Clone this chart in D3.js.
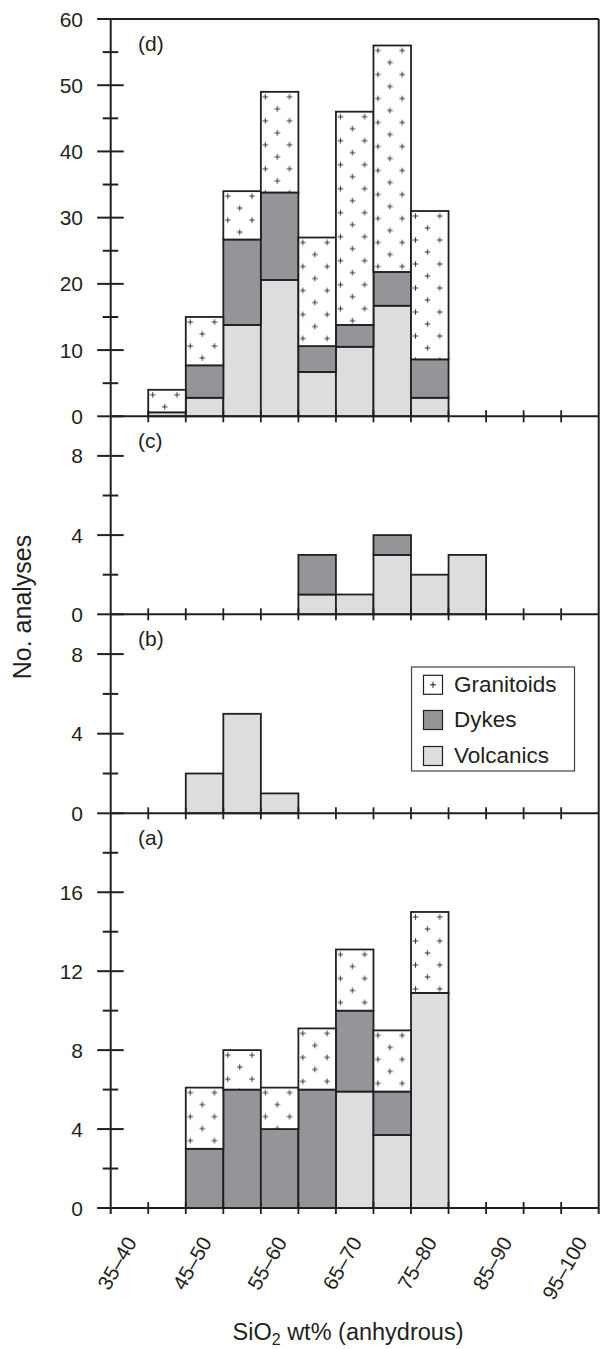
<!DOCTYPE html>
<html>
<head>
<meta charset="utf-8">
<script src="https://cdn.jsdelivr.net/npm/d3@7"></script>
<style>
  html, body { margin: 0; padding: 0; background: #fff; }
  svg { display: block; }
  text { font-family: "Liberation Sans", Arial, Helvetica, sans-serif; fill: #231f20; }
</style>
</head>
<body>
<svg id="chart" width="600" height="1349"></svg>
<script>
// ---------- DATA ----------
const bins = ["35–40","40–45","45–50","50–55","55–60","60–65","65–70","70–75","75–80","80–85","85–90","90–95","95–100"];
const xTickLabels = ["35–40","45–50","55–60","65–70","75–80","85–90","95–100"];
const seriesNames = ["Volcanics", "Dykes", "Granitoids"];

// panel (d)
const dVolcanics  = [0, 0.6, 2.8, 13.8, 20.6, 6.7, 10.5, 16.7, 2.8, 0, 0, 0, 0];
const dDykes      = [0, 0,   4.9, 12.9, 13.2, 3.9, 3.3,  5.1,  5.8, 0, 0, 0, 0];
const dGranitoids = [0, 3.4, 7.3, 7.3,  15.2, 16.4, 32.2, 34.2, 22.4, 0, 0, 0, 0];
// panel (c)
const cVolcanics  = [0, 0, 0, 0, 0, 1, 1, 3, 2, 3, 0, 0, 0];
const cDykes      = [0, 0, 0, 0, 0, 2, 0, 1, 0, 0, 0, 0, 0];
const cGranitoids = [0, 0, 0, 0, 0, 0, 0, 0, 0, 0, 0, 0, 0];
// panel (b)
const bVolcanics  = [0, 0, 2, 5, 1, 0, 0, 0, 0, 0, 0, 0, 0];
const bDykes      = [0, 0, 0, 0, 0, 0, 0, 0, 0, 0, 0, 0, 0];
const bGranitoids = [0, 0, 0, 0, 0, 0, 0, 0, 0, 0, 0, 0, 0];
// panel (a)
const aVolcanics  = [0, 0, 0,   0, 0,   0,   5.9, 3.7, 10.9, 0, 0, 0, 0];
const aDykes      = [0, 0, 3,   6, 4,   6,   4.1, 2.2, 0,    0, 0, 0, 0];
const aGranitoids = [0, 0, 3.1, 2, 2.1, 3.1, 3.1, 3.1, 4.1,  0, 0, 0, 0];

const panelLabels = ["(d)", "(c)", "(b)", "(a)"];
const panelMax = [60, 10, 10, 20];
const majorTicks = [[0,10,20,30,40,50,60],[0,4,8],[0,4,8],[0,4,8,12,16]];
const minorTicks = [[5,15,25,35,45,55],[2,6],[2,6],[2,6,10,14,18]];

// ---------- LAYOUT ----------
const X0 = 110.7, X1 = 598.7;
const panelTops = [19, 416.3, 614.3, 813.3];
const panelBottoms = [416.3, 614.3, 813.3, 1208];
const INK = "#231f20";
const colors = { Volcanics: "#dcdddf", Dykes: "#939598", Granitoids: "#ffffff" };

const panelsData = [
  [dVolcanics, dDykes, dGranitoids],
  [cVolcanics, cDykes, cGranitoids],
  [bVolcanics, bDykes, bGranitoids],
  [aVolcanics, aDykes, aGranitoids]
];

const svg = d3.select("#chart");
svg.append("rect").attr("width", 600).attr("height", 1349).attr("fill", "#fff");
const defs = svg.append("defs");

const x = d3.scaleBand().domain(bins).range([X0, X1]).padding(0);
const bw = x.bandwidth();

let patId = 0;
function plusPattern(px, py) {
  const id = "plus" + (patId++);
  const p = defs.append("pattern").attr("id", id)
    .attr("patternUnits", "userSpaceOnUse")
    .attr("x", px).attr("y", py).attr("width", bw).attr("height", 24);
  p.append("rect").attr("width", bw).attr("height", 24).attr("fill", "#fff");
  const pts = [[4.5, 5], [28.7, 5], [16.5, 17]];
  const a = 2.8;
  p.append("path")
    .attr("d", pts.map(([cx, cy]) => `M${cx - a},${cy}H${cx + a}M${cx},${cy - a}V${cy + a}`).join(""))
    .attr("stroke", INK).attr("stroke-width", 0.9).attr("fill", "none");
  return id;
}

panelsData.forEach((series, pi) => {
  const y = d3.scaleLinear().domain([0, panelMax[pi]]).range([panelBottoms[pi], panelTops[pi]]);
  const rows = bins.map((b, i) => {
    const r = { bin: b };
    seriesNames.forEach((s, si) => r[s] = series[si][i]);
    return r;
  });
  const stacked = d3.stack().keys(seriesNames)(rows);
  const g = svg.append("g").attr("class", "panel-" + panelLabels[pi]);
  stacked.forEach(layer => {
    layer.forEach(d => {
      const h = y(d[0]) - y(d[1]);
      if (h <= 0.01) return;
      const bx = x(d.data.bin), by = y(d[1]);
      let fill = colors[layer.key];
      if (layer.key === "Granitoids") fill = `url(#${plusPattern(bx, by)})`;
      g.append("rect")
        .attr("x", bx).attr("y", by).attr("width", bw).attr("height", h)
        .attr("fill", fill).attr("stroke", INK).attr("stroke-width", 1.8);
    });
  });

  // baseline + x ticks
  svg.append("line").attr("x1", X0).attr("x2", X1)
    .attr("y1", y(0)).attr("y2", y(0)).attr("stroke", INK).attr("stroke-width", 2);
  bins.forEach((b, i) => {
    if (i === 0) return;
    svg.append("line").attr("x1", x(b)).attr("x2", x(b))
      .attr("y1", y(0) - 6).attr("y2", y(0) + 6)
      .attr("stroke", INK).attr("stroke-width", 1.8);
  });

  // y ticks
  majorTicks[pi].forEach(v => {
    svg.append("line").attr("x1", X0 - 13.5).attr("x2", X0 + 13)
      .attr("y1", y(v)).attr("y2", y(v)).attr("stroke", INK).attr("stroke-width", 2);
    svg.append("text").attr("x", 83).attr("y", y(v)).attr("dy", "0.36em")
      .attr("text-anchor", "end").attr("font-size", 21).text(v);
  });
  minorTicks[pi].forEach(v => {
    svg.append("line").attr("x1", X0 - 8).attr("x2", X0 + 7.5)
      .attr("y1", y(v)).attr("y2", y(v)).attr("stroke", INK).attr("stroke-width", 2);
  });

  svg.append("text").attr("x", 138).attr("y", panelTops[pi] + 32)
    .attr("font-size", 21).text(panelLabels[pi]);
});

// frame: top, left, right
svg.append("line").attr("x1", X0 - 13.5).attr("x2", X1).attr("y1", panelTops[0]).attr("y2", panelTops[0])
  .attr("stroke", INK).attr("stroke-width", 2);
svg.append("line").attr("x1", X0).attr("x2", X0).attr("y1", panelTops[0]).attr("y2", 1208 + 6)
  .attr("stroke", INK).attr("stroke-width", 2);
svg.append("line").attr("x1", X1).attr("x2", X1).attr("y1", panelTops[0]).attr("y2", 1208 + 6)
  .attr("stroke", INK).attr("stroke-width", 2);

// x tick labels
xTickLabels.forEach(lbl => {
  const cx = x(lbl) + bw / 2 + 8;
  const cy = 1208 + 34;
  svg.append("text").attr("transform", `translate(${cx},${cy}) rotate(-60)`)
    .attr("text-anchor", "end").attr("font-size", 20.5).text(lbl);
});

// axis titles
const xt = svg.append("text").attr("x", 348).attr("y", 1340)
  .attr("text-anchor", "middle").attr("font-size", 23.5);
xt.append("tspan").text("SiO");
xt.append("tspan").attr("font-size", 16).attr("dy", 5).text("2");
xt.append("tspan").attr("dy", -5).text(" wt% (anhydrous)");

svg.append("text").attr("transform", "translate(31,607) rotate(-90)")
  .attr("text-anchor", "middle").attr("font-size", 25).text("No. analyses");

// legend
const lg = svg.append("g");
lg.append("rect").attr("x", 411.5).attr("y", 667).attr("width", 163).attr("height", 104)
  .attr("fill", "#fff").attr("stroke", "#444").attr("stroke-width", 1.2);
const legendItems = ["Granitoids", "Dykes", "Volcanics"];
const legendY = [675.3, 710.5, 746.5];
legendItems.forEach((name, i) => {
  lg.append("rect").attr("x", 423.5).attr("y", legendY[i]).attr("width", 19).attr("height", 19)
    .attr("fill", colors[name]).attr("stroke", INK).attr("stroke-width", 1.2);
  if (name === "Granitoids") {
    const cx = 433, cy = legendY[i] + 9.5;
    lg.append("path").attr("d", `M${cx - 3},${cy}H${cx + 3}M${cx},${cy - 3}V${cy + 3}`)
      .attr("stroke", INK).attr("stroke-width", 1);
  }
  lg.append("text").attr("x", 454).attr("y", legendY[i] + 16.2)
    .attr("font-size", 22.5).text(name);
});
</script>
</body>
</html>
